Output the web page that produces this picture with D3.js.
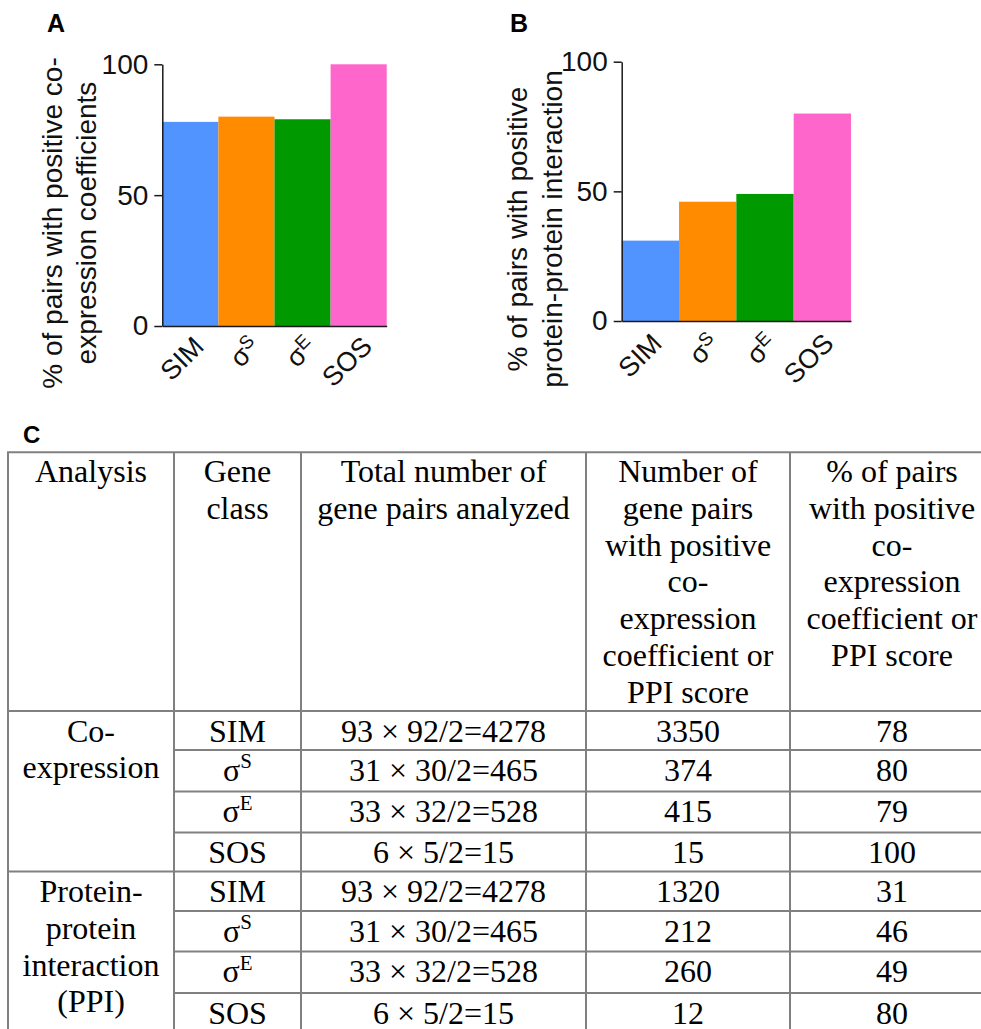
<!DOCTYPE html>
<html>
<head>
<meta charset="utf-8">
<script src="https://cdn.jsdelivr.net/npm/d3@7/dist/d3.min.js"></script>
<style>
  html, body { margin: 0; padding: 0; background: #fff; }
  svg { display: block; }
</style>
</head>
<body>
<svg id="fig" width="981" height="1029"></svg>
<script>
// ---------------- DATA ----------------
const geneClasses = ["SIM", "σS", "σE", "SOS"];
const coexprPct = [78, 80, 79, 100];
const ppiPct = [31, 46, 49, 80];
const yTicks = [0, 50, 100];
const barColors = ["#5294ff", "#ff8c00", "#009900", "#ff66cc"];

const tableHeaders = [
  ["Analysis"],
  ["Gene", "class"],
  ["Total number of", "gene pairs analyzed"],
  ["Number of", "gene pairs", "with positive", "co-", "expression", "coefficient or", "PPI score"],
  ["% of pairs", "with positive", "co-", "expression", "coefficient or", "PPI score"]
];
const analysisGroups = [["Co-", "expression"], ["Protein-", "protein", "interaction", "(PPI)"]];
const totalPairs = ["93 × 92/2=4278", "31 × 30/2=465", "33 × 32/2=528", "6 × 5/2=15"];
const coexprPositive = [3350, 374, 415, 15];
const ppiPositive = [1320, 212, 260, 12];

// ---------------- LAYOUT ----------------
const svg = d3.select("#fig");
const sans = "'Liberation Sans', Arial, Helvetica, sans-serif";
const serif = "'Liberation Serif', 'Times New Roman', serif";

function labelWithSup(sel, d) {
  sel.text(null);
  if (d.startsWith("σ")) {
    sel.append("tspan").text("σ");
    sel.append("tspan").attr("font-size", "70%").attr("dy", "-0.45em").text(d.slice(1));
  } else {
    sel.text(d);
  }
}

function barPanel(cfg) {
  const g = svg.append("g");
  const x = d3.scaleBand().domain(geneClasses).range([cfg.x0, cfg.x1]).padding(0);
  const y = d3.scaleLinear().domain([0, 100]).range([cfg.y0, cfg.y1]);

  g.selectAll("rect.bar").data(cfg.values).join("rect")
    .attr("class", "bar")
    .attr("x", (d, i) => x(geneClasses[i]))
    .attr("width", x.bandwidth())
    .attr("y", d => y(d))
    .attr("height", d => y(0) - y(d))
    .attr("fill", (d, i) => barColors[i]);

  const ya = g.append("g").attr("transform", `translate(${cfg.x0},0)`)
    .call(d3.axisLeft(y).tickValues(yTicks).tickSize(8).tickSizeOuter(0).tickPadding(6));
  ya.selectAll("path, line").attr("stroke", "#1a1a1a").attr("stroke-width", 1.5);
  ya.selectAll("text").attr("font-family", sans).attr("font-size", 28).attr("fill", "#111");

  const xa = g.append("g").attr("transform", `translate(0,${cfg.y0})`)
    .call(d3.axisBottom(x).tickSize(0).tickSizeOuter(0));
  xa.select("path").attr("stroke", "#1a1a1a").attr("stroke-width", 1.5);
  xa.selectAll("text")
    .attr("font-family", sans).attr("font-size", 27).attr("fill", "#111")
    .attr("text-anchor", "end").attr("x", 0).attr("y", 0).attr("dy", null)
    .attr("transform", `translate(${cfg.ldx},${cfg.ldy}) rotate(-45)`)
    .each(function(d) { labelWithSup(d3.select(this), d); });

  const yl = svg.append("text")
    .attr("transform", `translate(${cfg.lx},${cfg.ly}) rotate(-90)`)
    .attr("text-anchor", "middle")
    .attr("font-family", sans).attr("font-size", 28).attr("fill", "#111");
  cfg.ylabel.forEach((t, i) => yl.append("tspan").attr("x", 0).attr("y", i * cfg.lsp).text(t));

  svg.append("text").attr("x", cfg.px).attr("y", cfg.py)
    .attr("font-family", sans).attr("font-weight", "bold").attr("font-size", 25)
    .text(cfg.panel);
}

barPanel({ panel: "A", px: 47, py: 32, values: coexprPct,
  x0: 162.3, x1: 386.7, y0: 326, y1: 64.3, ldx: 15, ldy: 22,
  lx: 62, ly: 223, lsp: 34,
  ylabel: ["% of pairs with positive co-", "expression coefficients"] });

barPanel({ panel: "B", px: 510, py: 32, values: ppiPct,
  x0: 621.7, x1: 851, y0: 321, y1: 61.7, ldx: 13, ldy: 24,
  lx: 527, ly: 229, lsp: 34.5,
  ylabel: ["% of pairs with positive", "protein-protein interaction"] });

// ---------------- TABLE C ----------------
svg.append("text").attr("x", 23).attr("y", 443)
  .attr("font-family", sans).attr("font-weight", "bold").attr("font-size", 24).text("C");

const colX = [8, 174, 301, 586, 790, 994];
const tableTop = 452.3;
const headerBottom = 711;
const rowHeights = [39, 41.5, 41, 39, 39.5, 40.5, 41.5, 40];
const rowTops = [headerBottom];
rowHeights.forEach((h, i) => rowTops.push(rowTops[i] + h));
const lineSp = 36.7;
const fs = 32;
const lineColor = "#808080";
const tg = svg.append("g");

function hline(y, xa, xb) {
  tg.append("line").attr("x1", xa).attr("x2", xb).attr("y1", y).attr("y2", y)
    .attr("stroke", lineColor).attr("stroke-width", 2);
}
function vline(x, ya, yb) {
  tg.append("line").attr("x1", x).attr("x2", x).attr("y1", ya).attr("y2", yb)
    .attr("stroke", lineColor).attr("stroke-width", 2);
}
const tableBottom = rowTops[rowTops.length - 1];
hline(tableTop, colX[0] - 1, colX[5]);
hline(headerBottom, colX[0] - 1, colX[5]);
rowTops.slice(1, -1).forEach((y, i) => {
  const full = (i + 1) % 4 === 0;
  hline(y, full ? colX[0] - 1 : colX[1], colX[5]);
});
hline(tableBottom, colX[0] - 1, colX[5]);
colX.forEach(x => vline(x, tableTop, tableBottom));

function cellText(lines, cx, firstBaseline) {
  const t = tg.append("text").attr("font-family", serif).attr("font-size", fs)
    .attr("text-anchor", "middle").attr("fill", "#000");
  lines.forEach((s, i) => {
    const ts = t.append("tspan").attr("x", cx).attr("y", firstBaseline + i * lineSp);
    labelWithSup(ts, String(s));
  });
  return t;
}
function centerOf(c) { return (colX[c] + colX[c + 1]) / 2; }

tableHeaders.forEach((lines, c) => cellText(lines, centerOf(c), 482.3));

analysisGroups.forEach((lines, gi) => {
  cellText(lines, centerOf(0), rowTops[gi * 4] + 30.7);
});

const positives = [coexprPositive, ppiPositive];
const pcts = [coexprPct, ppiPct];
[0, 1].forEach(gi => {
  geneClasses.forEach((gc, i) => {
    const r = gi * 4 + i;
    const base = rowTops[r] + 30.6;
    const t = tg.append("text").attr("font-family", serif).attr("font-size", fs)
      .attr("text-anchor", "middle").attr("x", centerOf(1)).attr("y", base);
    if (gc.startsWith("σ")) {
      t.append("tspan").text("σ");
      t.append("tspan").attr("font-size", 21).attr("dy", -12.4).text(gc.slice(1));
    } else t.text(gc);
    cellText([totalPairs[i]], centerOf(2), base);
    cellText([positives[gi][i]], centerOf(3), base);
    cellText([pcts[gi][i]], centerOf(4), base);
  });
});
</script>
</body>
</html>
